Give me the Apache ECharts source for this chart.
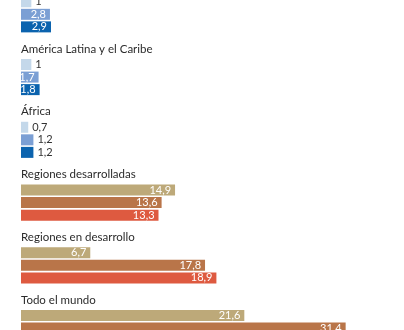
<!DOCTYPE html>
<html>
<head>
<meta charset="utf-8">
<script src="https://cdn.jsdelivr.net/npm/echarts@6/dist/echarts.min.js"></script>
<style>html,body{margin:0;padding:0;background:#fff;}#c{width:404px;height:330px;}</style>
</head>
<body>
<div id="c"></div>
<script>
// Group names (the first group's name is cut off in the reference)
var groups = [null, 'América Latina y el Caribe', 'África', 'Regiones desarrolladas', 'Regiones en desarrollo', 'Todo el mundo'];
// Three bars per group
var bar1 = [1, 1, 0.7, 14.9, 6.7, 21.6];
var bar2 = [2.8, 1.7, 1.2, 13.6, 17.8, 31.4];
var bar3 = [2.9, 1.8, 1.2, 13.3, 18.9, null];
var blues = ['#c4d8ea', '#7b9fd4', '#0b63ae'];
var warms = ['#bda979', '#b97549', '#de5a40'];

var cats = [], main = [], names = [];
groups.forEach(function (g, gi) {
  if (g !== null) {
    cats.push('blank' + gi); main.push('-'); names.push('-');
    cats.push(g); main.push('-'); names.push({ value: 0, name: g });
  }
  var vals = [bar1[gi], bar2[gi], bar3[gi]];
  var pal = gi < 3 ? blues : warms;
  vals.forEach(function (v, k) {
    cats.push(gi + '-' + k);
    names.push('-');
    if (v === null) { main.push('-'); return; }
    var inside = v >= 1.5;
    main.push({
      value: v,
      itemStyle: { color: pal[k] },
      label: inside ? { position: 'insideRight', distance: 4, color: '#ffffff' }
                    : { position: 'right', distance: 4, color: '#333333' }
    });
  });
});

var chart = echarts.init(document.getElementById('c'), null, { renderer: 'canvas' });
chart.setOption({
  animation: false,
  grid: { left: 21, width: 372.2, top: -4.5, height: 351.4, containLabel: false, outerBoundsMode: 'none' },
  xAxis: { type: 'value', min: 0, max: 36, show: false },
  yAxis: { type: 'category', data: cats, inverse: true, show: false },
  series: [
    {
      type: 'bar', data: main, barWidth: 11, barGap: '-100%',
      label: {
        show: true, fontFamily: 'Lato', fontSize: 11,
        formatter: function (p) { return String(p.value).replace('.', ','); }
      }
    },
    {
      type: 'bar', data: names, barWidth: 11, barGap: '-100%',
      itemStyle: { color: 'rgba(0,0,0,0)' },
      label: {
        show: true, position: 'right', distance: 0, offset: [0, -3],
        color: '#2b2b2b', fontFamily: 'Lato', fontSize: 11.5,
        formatter: function (p) { return p.name; }
      }
    }
  ]
});
</script>
</body>
</html>
